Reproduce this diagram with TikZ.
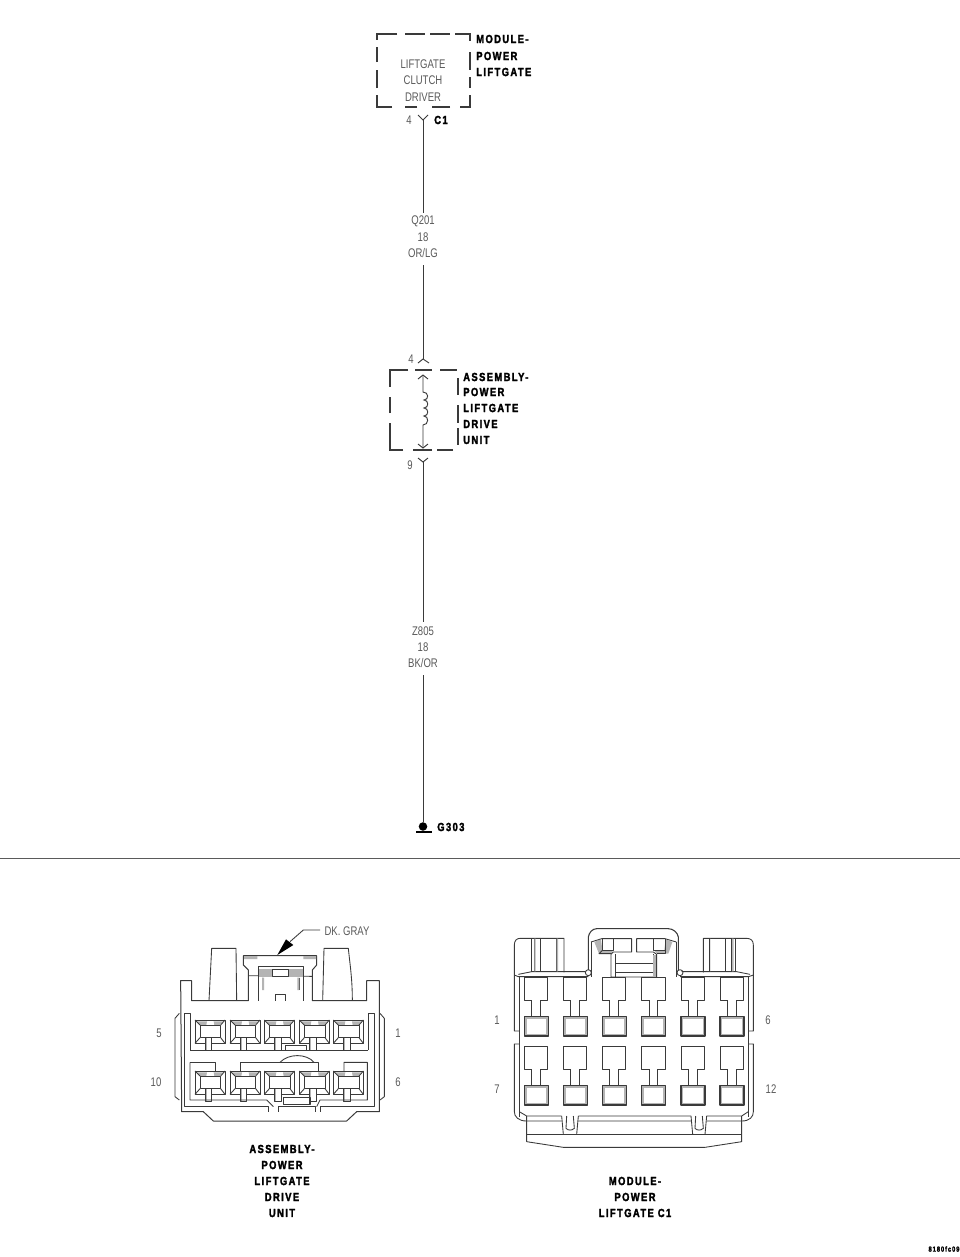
\documentclass[tikz,border=0pt]{standalone}
\usepackage{fontspec}
\setmainfont{Liberation Sans}
\newfontfamily\thinfont[FakeStretch=0.76]{Liberation Sans}
\newfontfamily\boldlab[FakeStretch=0.8,LetterSpace=12,FakeBold=2.2]{Liberation Sans Bold}
\usetikzlibrary{arrows.meta}
\definecolor{ink}{HTML}{3A3A3A}
\definecolor{soft}{HTML}{5A5A5A}
\definecolor{band}{HTML}{B4B4B4}
\tikzset{
  wire/.style={draw=ink,line width=0.7pt},
  dashbox/.style={draw=ink,line width=1.5pt},
  thin lab/.style={inner sep=0,text=soft,font=\thinfont\fontsize{9.4}{11}\selectfont},
  bold lab/.style={inner sep=0,text=black,font=\boldlab\fontsize{8.8}{10}\selectfont},
  conn/.style={draw=ink,line width=0.65pt,line join=round},
  zoomA/.style={shift={(140,915)},x=0.25pt,y=-0.25pt},
  zoomB/.style={shift={(485,920)},x=0.25pt,y=-0.25pt}
}
\newcommand{\cavA}[2]{%
  \draw[conn] (#1,#2) rectangle ++(90,70);
  \fill[band] (#1+6,#2+4) -- (#1+36,#2+4) -- (#1+34,#2+15) -- (#1+15,#2+15) -- cycle;
  \fill[band] (#1+84,#2+4) -- (#1+56,#2+4) -- (#1+58,#2+15) -- (#1+75,#2+15) -- cycle;
  \draw[conn] (#1+15,#2+15) rectangle ++(62,38);
  \draw[conn] (#1,#2) -- (#1+15,#2+15) (#1+90,#2) -- (#1+77,#2+15) (#1,#2+70) -- (#1+15,#2+53) (#1+90,#2+70) -- (#1+77,#2+53);
  \fill[white] (#1+30,#2+54) rectangle ++(20,36);
  \fill[band] (#1+31,#2+54) rectangle ++(5,36);
  \draw[conn] (#1+30,#2+53) -- (#1+30,#2+90) -- (#1+50,#2+90) -- (#1+50,#2+53);
}
\newcommand{\cavB}[3]{%
  \draw[conn] (#1+22,#2+68) -- (#1,#2+68) -- (#1,#2) -- (#1+70,#2) -- (#1+70,#2+68) -- (#1+48,#2+68) -- (#1+48,#3) (#1+22,#2+68) -- (#1+22,#3);
  \fill[band] (#1,#3) rectangle ++(72,58);
  \fill[white] (#1+7,#3+7) rectangle ++(58,44);
  \draw[conn,line width=0.9pt] (#1,#3) rectangle ++(72,58);
}
\begin{document}
\begin{tikzpicture}[x=0.75pt,y=-0.75pt]
\useasboundingbox (0,0) rectangle (960,1257);
\fill[white] (0,0) rectangle (960,1257);

% --- module box
\draw[dashbox] (397,34) -- (377,34) -- (377,40) (405,34) -- (425,34) (430,34) -- (450,34) (455,34) -- (470,34) -- (470,41)
 (470,52) -- (470,70) (470,77) -- (470,88) (470,95) -- (470,107) -- (460,107) (450,107) -- (432,107) (417,107) -- (405,107)
 (392,107) -- (377,107) -- (377,95) (377,88) -- (377,70) (377,62) -- (377,47);
\node[thin lab] (t1) at (423,64) {LIFTGATE};
\node[thin lab] (t2) at (423,80) {CLUTCH};
\node[thin lab] (t3) at (423,97) {DRIVER};
\node[bold lab,anchor=west] (m1) at (476,39) {MODULE-};
\node[bold lab,anchor=west] (m2) at (476,56) {POWER};
\node[bold lab,anchor=west] (m3) at (476,72) {LIFTGATE};
\node[thin lab] (p4a) at (409,120) {4};
\node[bold lab,anchor=west] (c1) at (434,120) {C1};

% --- wire, top segment
\coordinate (y1) at (423,120);
\coordinate (y1l) at (418,115);
\coordinate (y1r) at (428,115);
\draw[wire] (y1l) -- (y1) -- (y1r);
\node[thin lab] (q1) at (423,221) {Q201};
\node[thin lab] (q2) at (423,237) {18};
\node[thin lab] (q3) at (423,253) {OR/LG};
\coordinate (q1w) at (423,213);
\coordinate (q3w) at (423,265);
\draw[wire] (y1) -- (q1w);
\coordinate (c2top) at (423,359);
\draw[wire] (q3w) -- (c2top);
\draw[wire] (418,363) -- (c2top) -- (429,363);
\node[thin lab] (p4b) at (411,359) {4};

% --- drive unit box
\draw[dashbox] (408,370) -- (390,370) -- (390,387) (415,370) -- (432,370) (440,370) -- (457,370)
 (458,378) -- (458,395) (458,405) -- (458,423) (458,428) -- (458,445)
 (453,450) -- (437,450) (432,450) -- (413,450) (403,450) -- (390,450) -- (390,423) (390,413) -- (390,397);
\draw[wire] (418,379) -- (423,375) -- (428,379);
\draw[wire] (423,375) -- (423,392)
  .. controls (429,392) and (429,400) .. (424,400)
  .. controls (429,400) and (429,408) .. (424,408)
  .. controls (429,408) and (429,416) .. (424,416)
  .. controls (429,416) and (429,425) .. (423,425) -- (423,448);
\draw[wire] (418,444) -- (423,448) -- (428,444);
\node[bold lab,anchor=west] (a1) at (463,377) {ASSEMBLY-};
\node[bold lab,anchor=west] (a2) at (463,392) {POWER};
\node[bold lab,anchor=west] (a3) at (463,408) {LIFTGATE};
\node[bold lab,anchor=west] (a4) at (463,424) {DRIVE};
\node[bold lab,anchor=west] (a5) at (463,440) {UNIT};

% --- wire, lower segment
\coordinate (y2) at (423,462);
\draw[wire] (418,458) -- (y2) -- (428,458);
\node[thin lab] (p9) at (410,465) {9};
\node[thin lab] (z1) at (423,631) {Z805};
\node[thin lab] (z2) at (423,647) {18};
\node[thin lab] (z3) at (423,663) {BK/OR};
\coordinate (z1w) at (423,622);
\coordinate (z3w) at (423,675);
\draw[wire] (y2) -- (z1w);
\coordinate (gnd) at (423,822);
\draw[wire] (z3w) -- (gnd);
\fill[black] (423,826.5) circle[radius=3.2pt];
\fill[black] (417,830.5) rectangle (429,831);
\draw[black,line width=1.1pt] (416,832) -- (432,832);
\node[bold lab,anchor=west] (g) at (437,827) {G303};

% --- divider
\draw[draw=soft,line width=1.2pt] (0,858.5) -- (960,858.5);

% --- connector A
\begin{scope}[zoomA]
\draw[conn,line width=0.75pt] (125,590) -- (122,197) -- (155,197) -- (155,257) -- (325,257) -- (325,165) -- (310,150) -- (310,122) -- (530,122) -- (530,150) -- (517,165) -- (517,257) -- (680,257) -- (680,197) -- (718,197) -- (718,590) -- (650,590) -- (620,618) -- (220,618) -- (190,590) -- cycle;
\draw[conn] (207,257) -- (215,100) -- (288,100) -- (290,257);
\draw[conn] (548,257) -- (552,100) -- (625,100) .. controls (630,150) and (637,190) .. (637,257);
\fill[band] (312,123) rectangle (352,132) (490,123) rectangle (528,132);
\draw[conn] (325,182) -- (517,184);
\fill[band] (356,162) rectangle (490,185);
\fill[white] (396,164) rectangle (446,183);
\draw[conn] (355,257) -- (355,155) -- (490,155) -- (490,257);
\draw[conn] (396,162) rectangle (446,185);
\draw[conn] (366,188) -- (366,225) (478,188) -- (478,225);
\fill[band] (366,188) rectangle (372,225) (472,188) rectangle (478,225);
\draw[conn] (405,257) -- (405,237) -- (435,237) -- (435,257);
\draw[conn] (118,295) -- (105,310) -- (105,545) -- (118,555);
\draw[conn] (720,295) -- (733,310) -- (733,545) -- (720,555);
\draw[conn] (150,405) -- (150,295) -- (133,295) -- (133,575) -- (385,575) -- (385,590);
\draw[conn] (685,405) -- (685,295) -- (703,295) -- (703,575) -- (540,575) -- (540,590);
\draw[conn] (150,405) -- (685,405);
\draw[conn] (437,390) rectangle (500,405);
\foreach \cx in {165,270,373,478,580} {\cavA{\cx}{315}}
\foreach \cx in {165,270,373,478,580} {\cavA{\cx}{468}}
\draw[conn] (150,442) -- (225,442) -- (225,468);
\draw[conn] (150,442) -- (150,555) -- (380,555) -- (400,575);
\draw[conn] (300,468) -- (300,442) -- (535,442) -- (535,468);
\draw[conn] (420,442) .. controls (445,415) and (500,415) .. (522,442);
\draw[conn] (612,468) -- (612,442) -- (682,442) -- (682,555) -- (540,555) -- (530,575);
\draw[conn,line width=0.9pt] (430,547) rectangle (510,568);
\draw[conn] (415,590) -- (415,575) -- (525,575) -- (525,590);
\fill[black] (412,120) -- (438,73) -- (460,90) -- cycle;
\coordinate (lead1) at (450,80);
\coordinate (lead2) at (490,45);
\coordinate (lead3) at (540,45);
\draw[conn] (lead1) -- (lead2) -- (lead3);
\end{scope}
\node[thin lab] (dk) at (347,931) {DK. GRAY};
\node[thin lab] (a5n) at (159,1033) {5};
\node[thin lab] (a1n) at (398,1033) {1};
\node[thin lab] (a10n) at (156,1082) {10};
\node[thin lab] (a6n) at (398,1082) {6};

% --- connector B
\begin{scope}[zoomB]
\draw[conn,line width=0.75pt] (103,170) -- (103,590);
\draw[conn,line width=0.75pt] (790,170) -- (790,590);
\draw[conn] (103,333) -- (88,333) -- (88,75) .. controls (88,62) and (95,55) .. (105,55) -- (237,55) -- (237,157);
\draw[conn] (790,333) -- (805,333) -- (805,75) .. controls (805,62) and (798,55) .. (785,55) -- (655,55) -- (655,157);
\draw[conn] (103,372) -- (88,372) -- (88,575) .. controls (88,590) and (100,603) .. (125,603) -- (230,603) (280,603) -- (618,603) (665,603) -- (770,603) .. controls (795,603) and (805,590) .. (805,575) -- (805,372) -- (790,372);
\draw[conn] (88,165) -- (100,170) -- (310,170);
\draw[conn] (100,163) -- (140,155) -- (302,155);
\draw[conn] (805,165) -- (790,170) -- (585,170);
\draw[conn] (795,163) -- (755,155) -- (590,155);
\draw[conn] (140,155) -- (140,55) (148,155) -- (148,55) (165,155) -- (165,55) (215,155) -- (215,55);
\fill[band] (148,56) rectangle (152,154) (215,56) rectangle (219,154) (672,56) rectangle (676,154) (740,56) rectangle (746,154);
\draw[conn] (672,155) -- (672,55) (722,155) -- (722,55) (740,155) -- (740,55) (752,155) -- (752,55);
\draw[conn] (310,158) circle[radius=9];
\draw[conn] (585,158) circle[radius=9];
% centre latch
\draw[conn,line width=0.8pt] (310,150) -- (310,51) .. controls (312,38) and (322,26) .. (335,26) -- (550,26) .. controls (565,26) and (578,38) .. (580,51) -- (580,150);
\draw[conn] (318,170) -- (318,66) (574,170) -- (574,66);
\fill[band] (328,66) -- (348,58) -- (352,90) -- (385,90) -- (378,101) -- (342,101) -- cycle;
\fill[band] (562,66) -- (542,58) -- (538,90) -- (507,90) -- (515,101) -- (550,101) -- cycle;
\draw[conn] (318,66) -- (350,56) -- (440,56) -- (440,96) -- (385,96) -- (378,103) -- (378,171) -- (515,171) -- (515,103) -- (505,96) -- (455,96) -- (455,56) -- (540,56) -- (574,66);
\draw[conn] (352,56) -- (352,91) -- (385,91) -- (385,56);
\draw[conn] (505,56) -- (505,91) -- (540,91) -- (540,56);
\draw[conn] (540,56) -- (540,101) -- (515,101);
\draw[conn] (352,91) -- (342,101) -- (378,101);
\draw[conn] (390,131) -- (505,131) (390,156) -- (505,156) (390,103) -- (390,171) (505,103) -- (505,171);
\fill[band] (505,104) rectangle (514,170);
\foreach \cx in {118,235,352,470,588,705} {\cavB{\cx}{172}{290}}
\foreach \cx in {118,235,352,470,588,705} {\cavB{\cx}{380}{497}}
\draw[conn] (103,575) -- (125,588) -- (230,588) (280,588) -- (618,588) (665,588) -- (770,588) -- (790,575);
\draw[conn] (125,588) -- (125,665) -- (235,682) -- (660,682) -- (770,665) -- (770,588);
\draw[conn] (230,588) -- (235,643) (280,588) -- (275,643) (245,588) -- (243,625) .. controls (250,632) and (260,632) .. (268,625) -- (265,588);
\draw[conn] (618,588) -- (623,643) (665,588) -- (660,643) (632,588) -- (630,625) .. controls (637,632) and (647,632) .. (655,625) -- (652,588);
\draw[conn,line width=0.8pt] (125,643) -- (770,643);
\end{scope}
\node[thin lab] (b1n) at (497,1020) {1};
\node[thin lab] (b6n) at (768,1020) {6};
\node[thin lab] (b7n) at (497,1089) {7};
\node[thin lab] (b12n) at (771,1089) {12};

% --- captions
\node[bold lab] (ca1) at (282,1149) {ASSEMBLY-};
\node[bold lab] (ca2) at (282,1165) {POWER};
\node[bold lab] (ca3) at (282,1181) {LIFTGATE};
\node[bold lab] (ca4) at (282,1197) {DRIVE};
\node[bold lab] (ca5) at (282,1213) {UNIT};
\node[bold lab] (cb1) at (635,1181) {MODULE-};
\node[bold lab] (cb2) at (635,1197) {POWER};
\node[bold lab] (cb3) at (635,1213) {LIFTGATE C1};
\node[inner sep=0,font=\boldlab\fontsize{5.5}{6}\selectfont] (code) at (944,1249) {8180fc09};
\end{tikzpicture}
\end{document}
